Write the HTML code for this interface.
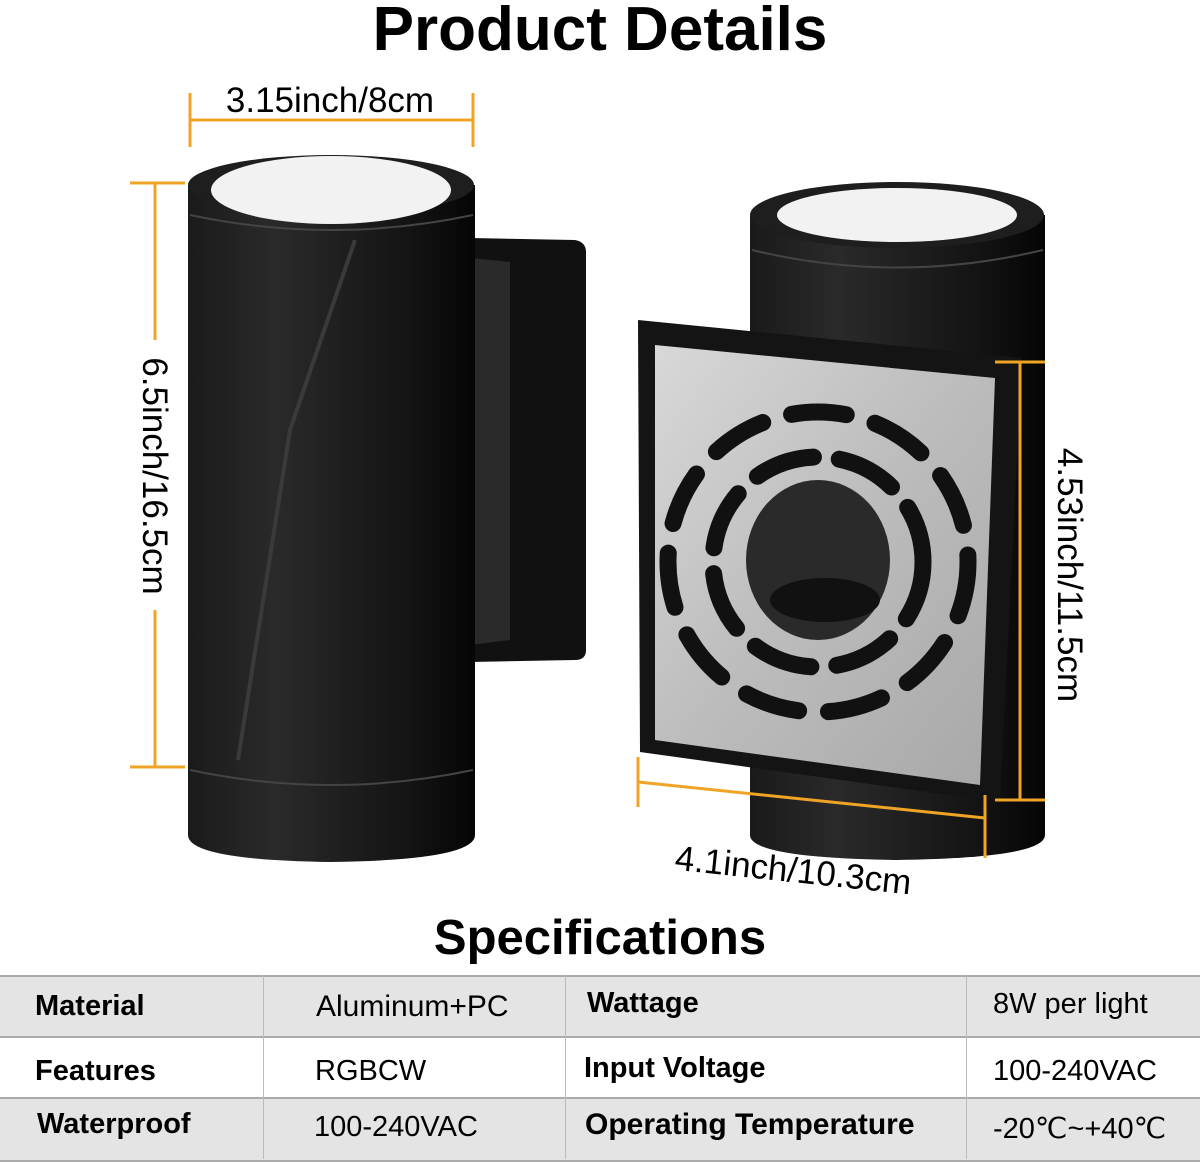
<!DOCTYPE html>
<html><head><style>
body{margin:0;width:1200px;height:1159px;background:#fff;position:relative;overflow:hidden;font-family:"Liberation Sans",sans-serif}
.t{position:absolute;white-space:nowrap}
.row{position:absolute;left:0;width:1200px;height:61px}
.b{font-weight:bold}
</style></head><body>
<div class="t b" style="left:0;width:1200px;text-align:center;top:-6px;font-size:62px">Product Details</div>
<svg width="1200" height="960" style="position:absolute;left:0;top:0">
<defs>
<linearGradient id="cyl" x1="0" x2="1"><stop offset="0" stop-color="#1a1a1a"/><stop offset=".3" stop-color="#2a2a2a"/><stop offset=".8" stop-color="#121212"/><stop offset="1" stop-color="#050505"/></linearGradient>
<linearGradient id="pl" x1="0" y1="0" x2="1" y2="1"><stop offset="0" stop-color="#d8d8d8"/><stop offset=".5" stop-color="#bcbcbc"/><stop offset="1" stop-color="#a8a8a8"/></linearGradient>
</defs>
<path d="M470 238 L575 240 Q586 242 586 252 L586 650 Q586 660 575 660 L470 662 Z" fill="#111"/>
<path d="M470 258 L510 262 L510 640 L470 645 Z" fill="#2a2a2a"/>
<path d="M188 185 L188 835 Q188 860 331 862 Q475 860 475 835 L475 185 Z" fill="url(#cyl)"/>
<ellipse cx="331" cy="185" rx="143" ry="30" fill="#1e1e1e"/>
<ellipse cx="331" cy="190" rx="120" ry="34" fill="#f2f2f2"/>
<path d="M190 215 Q331 245 473 215" stroke="#444" stroke-width="2" fill="none"/>
<path d="M190 770 Q331 800 473 770" stroke="#444" stroke-width="2" fill="none"/>
<path d="M355 240 L290 430 L238 760" stroke="#3a3a3a" stroke-width="4" fill="none"/>
<path d="M750 215 L750 835 Q750 858 897 860 Q1045 858 1045 835 L1045 215 Z" fill="url(#cyl)"/>
<ellipse cx="897" cy="215" rx="147" ry="33" fill="#1e1e1e"/>
<ellipse cx="897" cy="215" rx="120" ry="27" fill="#f2f2f2"/>
<path d="M752 250 Q897 285 1043 250" stroke="#444" stroke-width="2" fill="none"/>
<path d="M638 320 L1022 358 L1000 802 L640 752 Z" fill="#141414"/>
<path d="M655 345 L995 378 L980 785 L655 740 Z" fill="url(#pl)"/>
<g fill="none" stroke="#111" stroke-width="17" stroke-linecap="round">
<circle cx="818" cy="562" r="150" stroke-dasharray="55 30"/>
<circle cx="818" cy="562" r="105" stroke-dasharray="60 26"/>
</g>
<ellipse cx="818" cy="560" rx="72" ry="80" fill="#2a2a2a"/>
<ellipse cx="825" cy="600" rx="55" ry="22" fill="#111"/>
<g stroke="#f0a426" stroke-width="3">
<line x1="190" y1="120" x2="473" y2="120"/><line x1="190" y1="93" x2="190" y2="147"/><line x1="473" y1="93" x2="473" y2="147"/>
<line x1="155" y1="183" x2="155" y2="340"/><line x1="155" y1="610" x2="155" y2="767"/>
<line x1="130" y1="183" x2="185" y2="183"/><line x1="130" y1="767" x2="185" y2="767"/>
<line x1="1020" y1="362" x2="1020" y2="800"/><line x1="995" y1="362" x2="1045" y2="362"/><line x1="995" y1="800" x2="1045" y2="800"/>
<line x1="638" y1="782" x2="985" y2="818"/><line x1="638" y1="757" x2="638" y2="807"/><line x1="985" y1="795" x2="985" y2="858"/>
</g>
<text x="330" y="112" font-size="35" text-anchor="middle" font-family="Liberation Sans">3.15inch/8cm</text>
<text transform="translate(143,476) rotate(90)" font-size="35" text-anchor="middle" font-family="Liberation Sans">6.5inch/16.5cm</text>
<text transform="translate(1058,575) rotate(90)" font-size="35" text-anchor="middle" font-family="Liberation Sans">4.53inch/11.5cm</text>
<text transform="translate(792,882) rotate(6)" font-size="35" text-anchor="middle" font-family="Liberation Sans">4.1inch/10.3cm</text>
</svg>
<div class="t b" style="left:0;width:1200px;text-align:center;top:910px;font-size:49px">Specifications</div>
<div class="row" style="top:975px;background:#e4e4e4;border-top:2px solid #aaa"></div>
<div class="row" style="top:1036px;background:#fff;border-top:2px solid #aaa"></div>
<div class="row" style="top:1097px;background:#e4e4e4;border-top:2px solid #aaa;border-bottom:2px solid #aaa"></div>
<div style="position:absolute;left:263px;top:975px;width:1px;height:184px;background:#bbb"></div>
<div style="position:absolute;left:565px;top:975px;width:1px;height:184px;background:#bbb"></div>
<div style="position:absolute;left:966px;top:975px;width:1px;height:184px;background:#bbb"></div>
<div class="t b" style="left:35px;top:990px;font-size:29px">Material</div>
<div class="t" style="left:316px;top:990px;font-size:30px">Aluminum+PC</div>
<div class="t b" style="left:587px;top:987px;font-size:29px">Wattage</div>
<div class="t" style="left:993px;top:988px;font-size:29px">8W per light</div>
<div class="t b" style="left:35px;top:1055px;font-size:29px">Features</div>
<div class="t" style="left:315px;top:1055px;font-size:29px">RGBCW</div>
<div class="t b" style="left:584px;top:1052px;font-size:29px">Input Voltage</div>
<div class="t" style="left:993px;top:1055px;font-size:29px">100-240VAC</div>
<div class="t b" style="left:37px;top:1108px;font-size:29px">Waterproof</div>
<div class="t" style="left:314px;top:1111px;font-size:29px">100-240VAC</div>
<div class="t b" style="left:585px;top:1108px;font-size:30px">Operating Temperature</div>
<div class="t" style="left:993px;top:1111px;font-size:29px">-20℃~+40℃</div>
</body></html>
